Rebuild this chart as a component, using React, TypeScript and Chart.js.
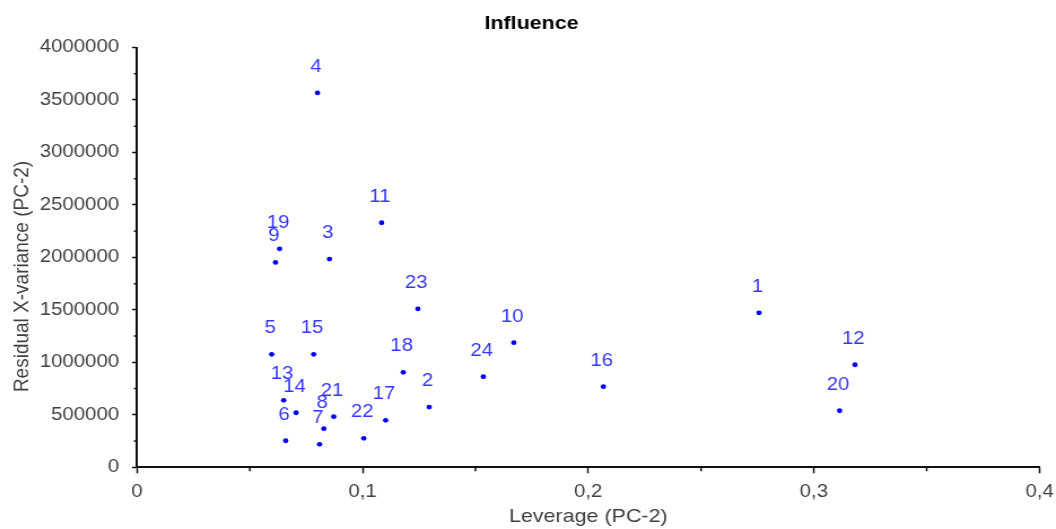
import { useEffect, useRef } from 'react';
import { Chart, registerables } from 'chart.js';

Chart.register(...registerables);

// ---- data ----
const sampleLabels = ['1', '2', '3', '4', '5', '6', '7', '8', '9', '10', '11', '12', '13', '14', '15', '16', '17', '18', '19', '20', '21', '22', '23', '24'];
const leverage = [0.2757, 0.1295, 0.0853, 0.08, 0.0597, 0.0659, 0.0809, 0.0828, 0.0614, 0.167, 0.1084, 0.3182, 0.065, 0.0705, 0.0783, 0.2067, 0.1102, 0.118, 0.0632, 0.3114, 0.0872, 0.1005, 0.1245, 0.1535];
const residualXVariance = [1472000, 574000, 1984000, 3567000, 1076000, 253000, 219000, 368000, 1952000, 1187000, 2330000, 977000, 638000, 520000, 1076000, 768000, 448000, 905000, 2082000, 539000, 482000, 276000, 1510000, 863000];
const xTickLabels = ['0', '0,1', '0,2', '0,3', '0,4'];
const yTickLabels = ['0', '500000', '1000000', '1500000', '2000000', '2500000', '3000000', '3500000', '4000000'];
const xMinorTicks = [0.05, 0.15, 0.25, 0.35];
const yMinorTicks = [250000, 750000, 1250000, 1750000, 2250000, 2750000, 3250000, 3750000];
const chartTitle = 'Influence';
const xTitle = 'Leverage (PC-2)';
const yTitle = 'Residual X-variance (PC-2)';

// ---- geometry (drawing px; canvas is stretched horizontally on display) ----
const CANVAS_W = 935;
const CANVAS_H = 529;
const DISPLAY_W = 1056;
const FONT = "'Liberation Sans', Arial, sans-serif";

const noScalePadding = (s: any) => {
  s.paddingLeft = 0;
  s.paddingRight = 0;
  s.paddingTop = 0;
  s.paddingBottom = 0;
};

const overlay = {
  id: 'overlay',
  afterDraw(chart: any) {
    const ctx = chart.ctx as CanvasRenderingContext2D;
    const xs = chart.scales.x;
    const ys = chart.scales.y;
    const area = chart.chartArea;
    ctx.save();
    // minor ticks
    ctx.strokeStyle = '#111';
    ctx.lineWidth = 1.5;
    ctx.beginPath();
    xMinorTicks.forEach((v) => {
      const px = xs.getPixelForValue(v);
      ctx.moveTo(px, area.bottom);
      ctx.lineTo(px, area.bottom + 4);
    });
    yMinorTicks.forEach((v) => {
      const py = ys.getPixelForValue(v);
      ctx.moveTo(area.left, py);
      ctx.lineTo(area.left - 2.7, py);
    });
    ctx.stroke();

    // point labels
    ctx.fillStyle = '#3535ff';
    ctx.font = `18px ${FONT}`;
    ctx.textAlign = 'center';
    ctx.textBaseline = 'alphabetic';
    const meta = chart.getDatasetMeta(0);
    meta.data.forEach((el: any, i: number) => {
      ctx.fillText(sampleLabels[i], el.x - 1.4, el.y - 21);
    });

    // title
    ctx.fillStyle = '#000';
    ctx.font = `bold 19px ${FONT}`;
    ctx.fillText(chartTitle, 470.6, 29);

    // y axis title
    ctx.fillStyle = '#404040';
    ctx.font = `19px ${FONT}`;
    ctx.translate(24.8, 276.5);
    ctx.rotate(-Math.PI / 2);
    ctx.fillText(yTitle, 0, 0);
    ctx.restore();
  },
};

export default function App() {
  const ref = useRef<HTMLCanvasElement | null>(null);
  useEffect(() => {
    if (!ref.current) return;
    const chart = new Chart(ref.current, {
      type: 'scatter',
      data: {
        datasets: [
          {
            label: 'Influence',
            data: leverage.map((x, i) => ({ x, y: residualXVariance[i] })),
            backgroundColor: '#0000ff',
            borderColor: '#0000ff',
            pointRadius: 2.4,
            pointBorderWidth: 0,
            pointHoverRadius: 2.4,
          },
        ],
      },
      options: {
        responsive: false,
        maintainAspectRatio: false,
        devicePixelRatio: 1,
        animation: false,
        events: [],
        layout: { padding: { top: 47.5, right: 14.6, left: 0, bottom: 0 } },
        plugins: {
          legend: { display: false },
          title: { display: false },
          tooltip: { enabled: false },
        },
        scales: {
          x: {
            type: 'linear',
            min: 0,
            max: 0.4,
            afterFit: (s: any) => {
              s.height = 61.7;
              noScalePadding(s);
            },
            ticks: {
              stepSize: 0.1,
              autoSkip: false,
              maxRotation: 0,
              padding: 7.5,
              color: '#404040',
              font: { family: FONT, size: 18 },
              callback: (_v: any, i: number) => xTickLabels[i],
            },
            grid: {
              display: true,
              drawOnChartArea: false,
              drawTicks: true,
              tickLength: 6,
              tickWidth: 1.5,
              tickColor: '#111',
            },
            border: { display: true, color: '#111', width: 2 },
            title: {
              display: true,
              text: xTitle,
              color: '#404040',
              font: { family: FONT, size: 19 },
              padding: { top: 0, bottom: 1.1 },
            },
          },
          y: {
            type: 'linear',
            min: 0,
            max: 4000000,
            afterFit: (s: any) => {
              s.width = 121.3;
              noScalePadding(s);
            },
            ticks: {
              stepSize: 500000,
              autoSkip: false,
              padding: 11.5,
              color: '#404040',
              font: { family: FONT, size: 18 },
              callback: (_v: any, i: number) => yTickLabels[i],
            },
            grid: {
              display: true,
              drawOnChartArea: false,
              drawTicks: true,
              tickLength: 4.4,
              tickWidth: 1.5,
              tickColor: '#111',
            },
            border: { display: true, color: '#111', width: 2 },
          },
        },
      },
      plugins: [overlay],
    });
    return () => chart.destroy();
  }, []);

  return (
    <div style={{ position: 'fixed', left: 0, top: 0, width: DISPLAY_W, height: CANVAS_H, background: '#fff' }}>
      <canvas
        ref={ref}
        width={CANVAS_W}
        height={CANVAS_H}
        style={{ display: 'block', width: `${DISPLAY_W}px`, height: `${CANVAS_H}px` }}
      />
    </div>
  );
}
